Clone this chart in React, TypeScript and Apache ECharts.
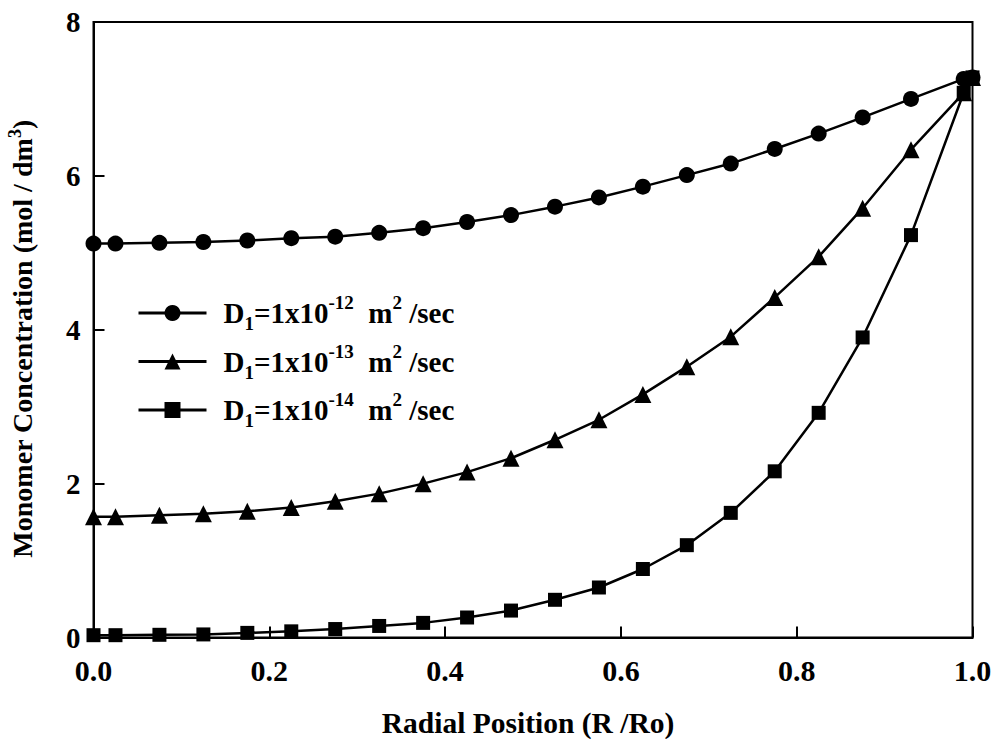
import React, { useEffect, useRef } from "react";
import * as echarts from "echarts";

const xPositions = [0, 0.025, 0.075, 0.125, 0.175, 0.225, 0.275, 0.325, 0.375, 0.425, 0.475, 0.525, 0.575, 0.625, 0.675, 0.725, 0.775, 0.825, 0.875, 0.93, 0.99, 1.0];
const d12Values = [5.12, 5.12, 5.13, 5.14, 5.16, 5.19, 5.21, 5.26, 5.32, 5.40, 5.49, 5.60, 5.72, 5.86, 6.01, 6.16, 6.35, 6.55, 6.76, 7.00, 7.26, 7.28];
const d13Values = [1.57, 1.57, 1.59, 1.61, 1.64, 1.69, 1.77, 1.87, 2.00, 2.15, 2.33, 2.57, 2.83, 3.16, 3.52, 3.91, 4.42, 4.95, 5.58, 6.34, 7.08, 7.28];
const d14Values = [0.03, 0.03, 0.035, 0.04, 0.06, 0.08, 0.11, 0.15, 0.19, 0.26, 0.35, 0.49, 0.65, 0.89, 1.20, 1.62, 2.16, 2.92, 3.90, 5.23, 7.08, 7.28];
const seriesNames = ["D1=1x10-12 m2 /sec", "D1=1x10-13 m2 /sec", "D1=1x10-14 m2 /sec"];
const seriesExponents = ["-12", "-13", "-14"];
const seriesSymbols = ["circle", "triangle", "rect"];
const seriesSymbolSizes = [16, 17, 14];
const xTickLabels = ["0.0", "0.2", "0.4", "0.6", "0.8", "1.0"];

const FONT = "'Liberation Serif', 'Times New Roman', serif";

export default function App() {
  const ref = useRef<HTMLDivElement>(null);
  useEffect(() => {
    if (!ref.current) return;
    const chart = echarts.init(ref.current, undefined, { renderer: "svg" });
    const values = [d12Values, d13Values, d14Values];
    const series = seriesNames.map((name, i) => ({
      name,
      type: "line",
      data: xPositions.map((x, j) => [x, values[i][j]]),
      symbol: seriesSymbols[i],
      symbolSize: seriesSymbolSizes[i],
      showAllSymbol: true,
      lineStyle: { color: "#000", width: 2.5 },
      itemStyle: { color: "#000" },
      z: 3 + i,
    }));
    chart.setOption({
      animation: false,
      backgroundColor: "#fff",
      grid: {
        left: 93.5,
        top: 22,
        right: 19.5,
        bottom: 101.5,
        containLabel: false,
        outerBoundsMode: "none",
        show: true,
        borderColor: "#000",
        borderWidth: 2,
        backgroundColor: "transparent",
      },
      legend: {
        left: 132,
        top: 288,
        orient: "vertical",
        itemWidth: 68,
        itemHeight: 20,
        itemGap: 8.5,
        lineStyle: { width: 3, color: "#000" },
        data: seriesNames,
        formatter: (name: string) => {
          const idx = seriesNames.indexOf(name);
          const e = seriesExponents[idx];
          return `{d|D}{sub|1}{b|=1x10}{sup|${e}}{b|  m}{sup|2}{b| /sec}`;
        },
        textStyle: {
          color: "#000",
          fontFamily: FONT,
          fontWeight: "bold",
          fontSize: 29,
          rich: {
            d: { fontFamily: FONT, fontWeight: "bold", fontSize: 29, lineHeight: 40, padding: [0, 0, 0, 12], color: "#000" },
            b: { fontFamily: FONT, fontWeight: "bold", fontSize: 29, lineHeight: 40, color: "#000" },
            sub: { fontFamily: FONT, fontWeight: "bold", fontSize: 19, lineHeight: 18, verticalAlign: "bottom", color: "#000" },
            sup: { fontFamily: FONT, fontWeight: "bold", fontSize: 19, lineHeight: 26, verticalAlign: "top", color: "#000" },
          },
        },
      },
      xAxis: {
        type: "value",
        min: 0,
        max: 1,
        interval: 0.2,
        name: "Radial Position (R /Ro)",
        nameLocation: "middle",
        nameGap: 70,
        nameTextStyle: { color: "#000", fontFamily: FONT, fontWeight: "bold", fontSize: 29.5, padding: [0, 10, 0, 0] },
        axisLine: { show: true, lineStyle: { color: "#000", width: 2 } },
        axisTick: { show: true, inside: true, length: 11, lineStyle: { color: "#000", width: 2 } },
        splitLine: { show: false },
        axisLabel: {
          color: "#000",
          fontFamily: FONT,
          fontWeight: "bold",
          fontSize: 30,
          margin: 18,
          formatter: (v: number) => xTickLabels[Math.round(v / 0.2)] ?? "",
        },
      },
      yAxis: {
        type: "value",
        min: 0,
        max: 8,
        interval: 2,
        name: "{t|Monomer Concentration (mol / dm}{s|3}{t|)}",
        nameLocation: "middle",
        nameRotate: 90,
        nameGap: 54,
        nameTextStyle: {
          color: "#000",
          padding: [0, 18, 0, 0],
          rich: {
            t: { fontFamily: FONT, fontWeight: "bold", fontSize: 28, lineHeight: 34, color: "#000" },
            s: { fontFamily: FONT, fontWeight: "bold", fontSize: 18, lineHeight: 20, verticalAlign: "top", color: "#000" },
          },
        },
        axisLine: { show: true, lineStyle: { color: "#000", width: 2 } },
        axisTick: { show: true, inside: true, length: 11, lineStyle: { color: "#000", width: 2 } },
        splitLine: { show: false },
        axisLabel: { color: "#000", fontFamily: FONT, fontWeight: "bold", fontSize: 29, margin: 13 },
      },
      series,
    });
    return () => chart.dispose();
  }, []);
  return <div ref={ref} style={{ position: "fixed", left: 0, top: 0, width: 992, height: 739, background: "#fff" }} />;
}
